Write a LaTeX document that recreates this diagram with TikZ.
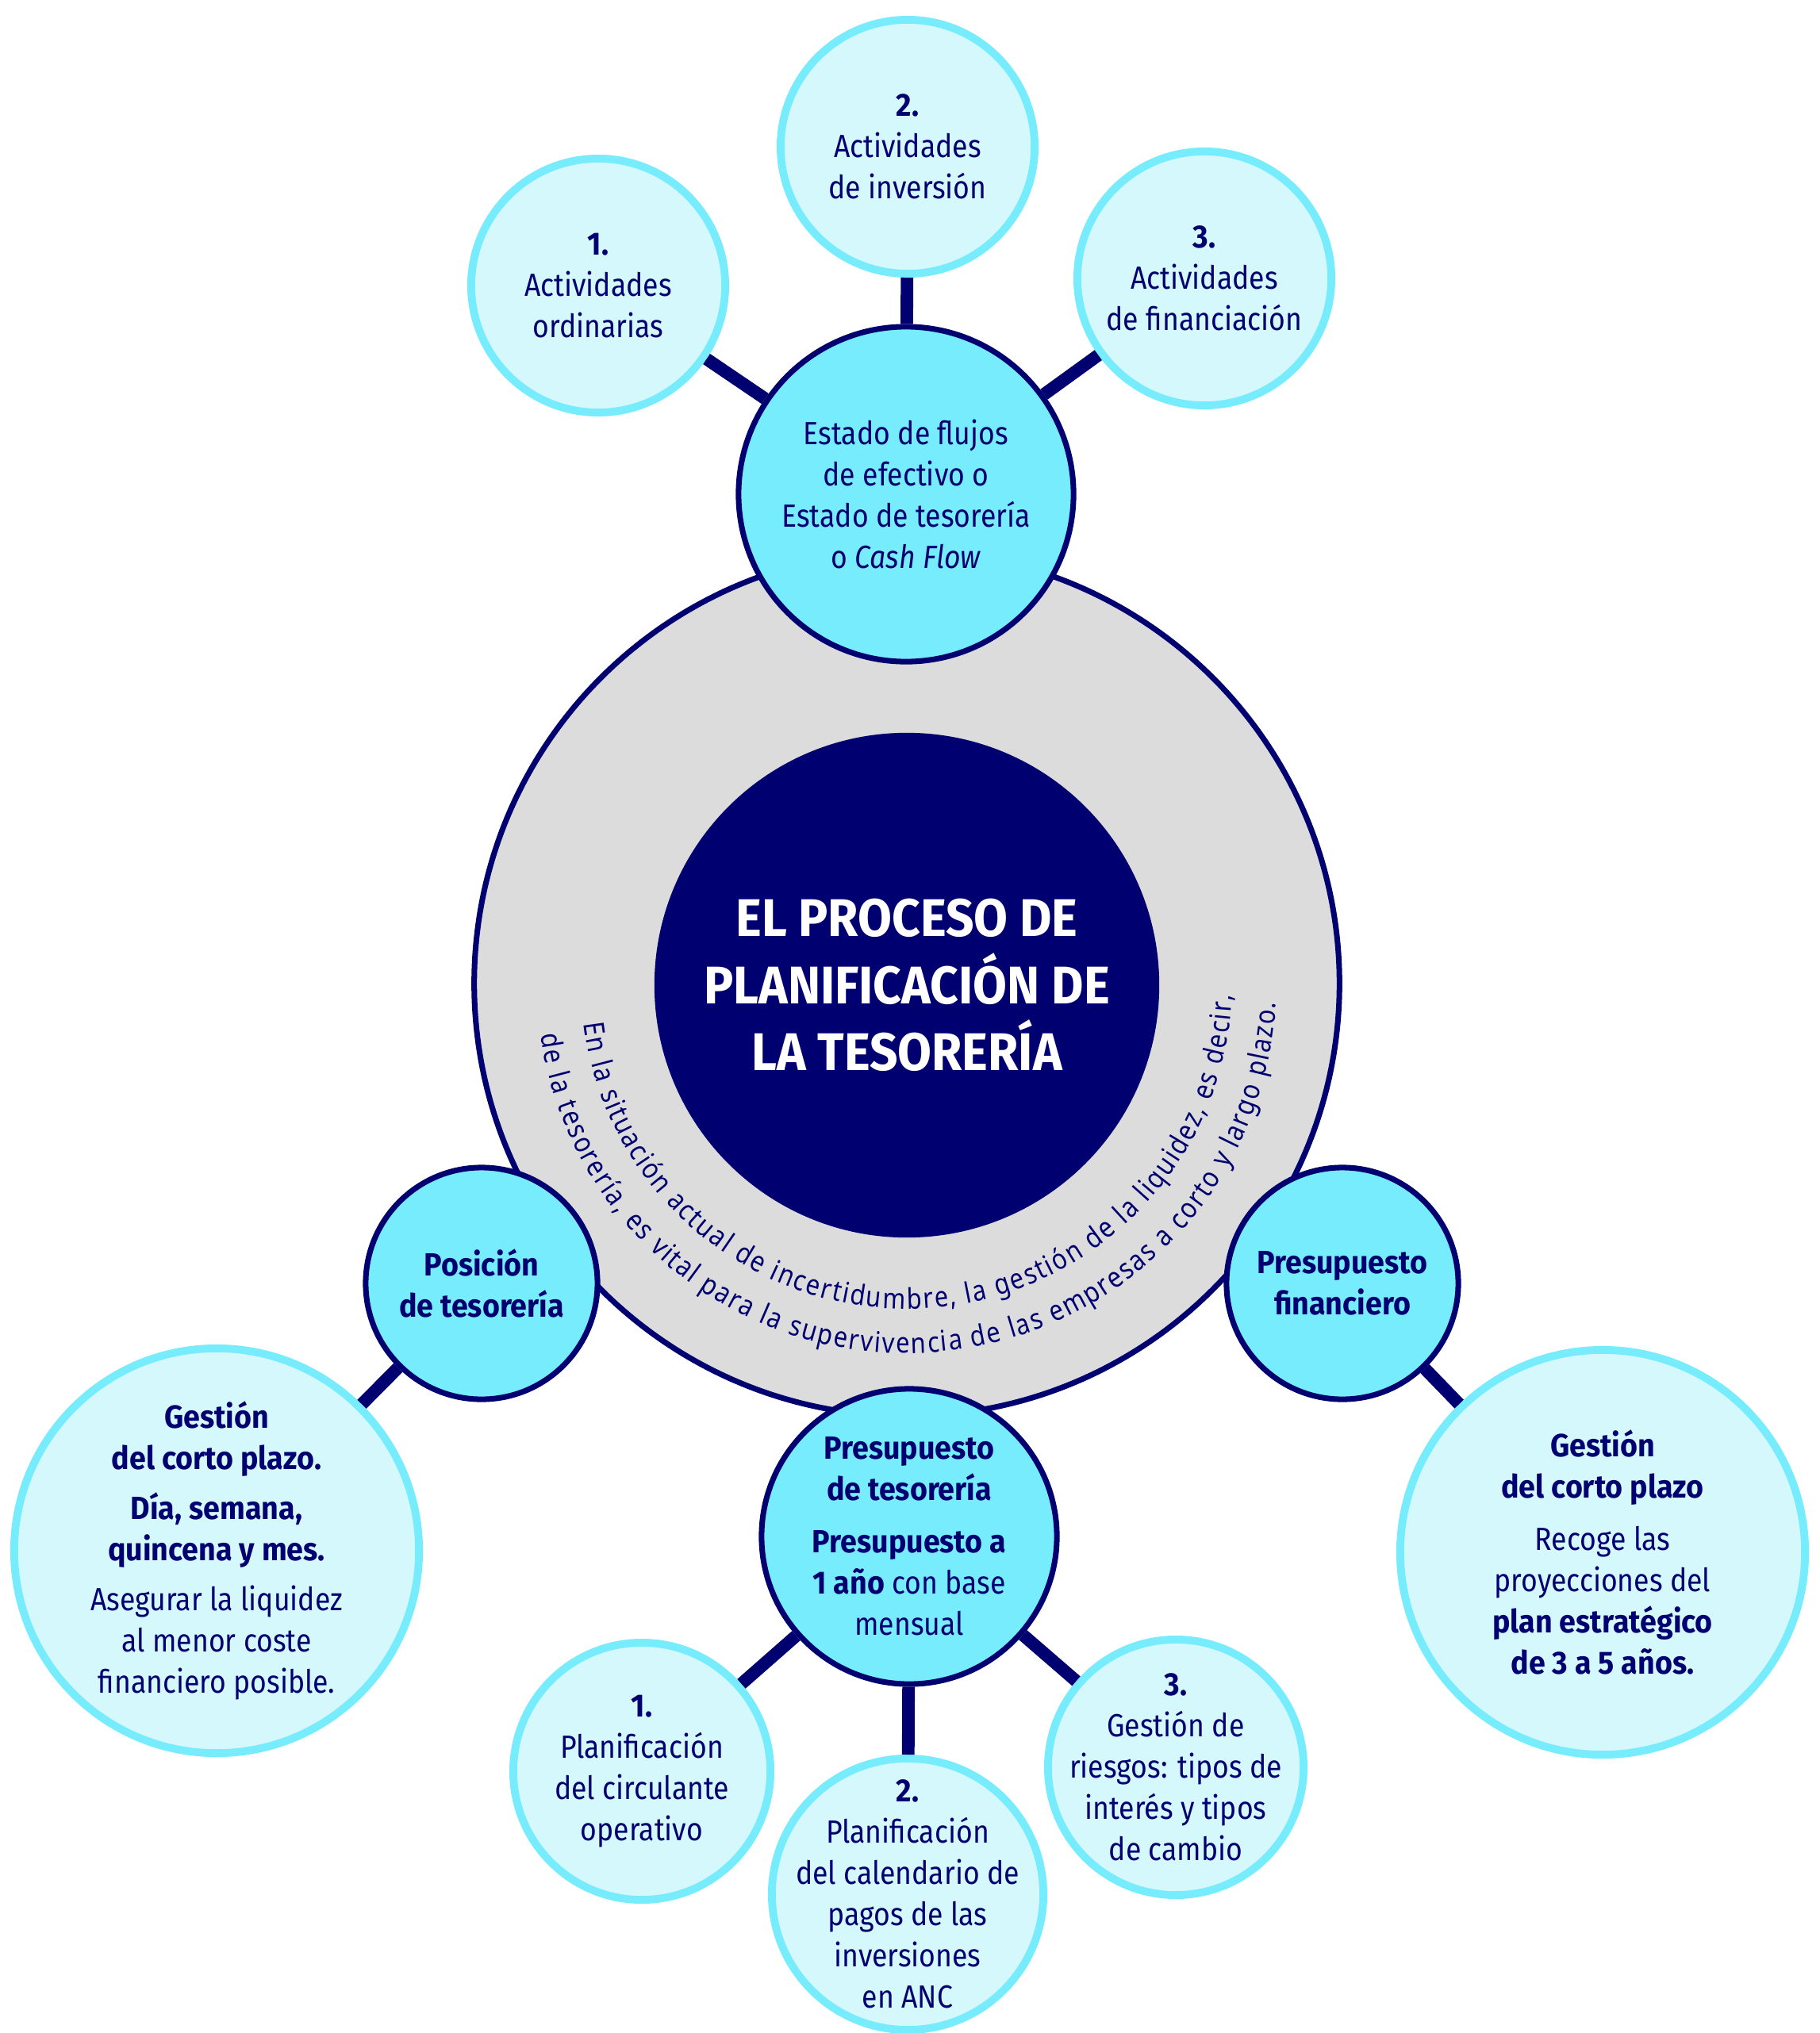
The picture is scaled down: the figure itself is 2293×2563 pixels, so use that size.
\documentclass[tikz,border=0pt]{standalone}
\usepackage{fontspec}
\setmainfont[FakeStretch=0.88,BoldFeatures={FakeStretch=0.93}]{Fira Sans}
\newfontfamily\arcfont[FakeStretch=0.86]{Noto Sans}
\usetikzlibrary{decorations.text}
\definecolor{navy}{RGB}{0,0,112}
\definecolor{midcyan}{RGB}{118,236,253}
\definecolor{palecyan}{RGB}{213,248,253}
\definecolor{ringgrey}{RGB}{220,220,220}

\begin{document}
\begin{tikzpicture}[x=0.01cm,y=0.01cm,
  hub/.style={circle,draw=navy,fill=midcyan,line width=2pt,text=navy,align=center,inner sep=-1cm,font=\fontsize{11.5}{14.8}\selectfont},
  leaf/.style={circle,draw=midcyan,fill=palecyan,line width=2.8pt,text=navy,align=center,inner sep=-1cm,font=\fontsize{11.5}{14.8}\selectfont},
  link/.style={draw=navy,line width=4.5pt}]

\useasboundingbox (0,0) rectangle (2293,-2563);

% anillo central
\node[circle,draw=navy,fill=ringgrey,line width=2pt,minimum size=10.9cm] (ring) at (1143,-1240) {};
\node[circle,fill=navy,minimum size=6.36cm,inner sep=-1cm,text=white,align=center,font=\fontsize{19}{24}\selectfont\bfseries] (core) at (1143,-1242) {EL PROCESO DE\\PLANIFICACIÓN DE\\LA TESORERÍA};

\path[decorate,decoration={text along path,text align={fit to path},
  text={|\arcfont\fontsize{10.2}{11}\selectfont\color{navy}|En la situación actual de incertidumbre, la gestión de la liquidez, es decir,}}]
  (ring.center) ++(187:410) arc[start angle=187,end angle=358,radius=410];
\path[decorate,decoration={text along path,text align={fit to path},
  text={|\arcfont\fontsize{10.2}{11}\selectfont\color{navy}|de la tesorería, es vital para la supervivencia de las empresas a corto y largo plazo.}}]
  (ring.center) ++(188:466) arc[start angle=188,end angle=357,radius=466];

% nodos
\node[hub,minimum size=4.22cm](flujo) at (1142,-623) {Estado de flujos\\de efectivo o\\Estado de tesorería\\o \textit{Cash Flow}};
\node[leaf,minimum size=3.2cm](act1) at (754,-360) {\textbf{1.}\\Actividades\\ordinarias};
\node[leaf,minimum size=3.2cm](act2) at (1144,-185) {\textbf{2.}\\Actividades\\de inversión};
\node[leaf,minimum size=3.2cm](act3) at (1518,-351) {\textbf{3.}\\Actividades\\de financiación};

\node[hub,minimum size=2.92cm,font=\fontsize{11.5}{14.8}\selectfont\bfseries](posic) at (607,-1618) {Posición\\de tesorería};
\node[hub,minimum size=2.92cm,font=\fontsize{11.5}{14.8}\selectfont\bfseries](presfin) at (1692,-1618) {Presupuesto\\financiero};
\node[hub,minimum size=3.72cm](prestes) at (1146,-1937) {\textbf{Presupuesto}\\\textbf{de tesorería}\\[4pt]\textbf{Presupuesto a}\\\textbf{1 año} con base\\mensual};

\node[leaf,minimum size=5.1cm](corto) at (273,-1955) {\textbf{Gestión}\\\textbf{del corto plazo.}\\[3pt]\textbf{Día, semana,}\\\textbf{quincena y mes.}\\[3pt]Asegurar la liquidez\\al menor coste\\financiero posible.};
\node[leaf,minimum size=5.1cm](largo) at (2020,-1957) {\textbf{Gestión}\\\textbf{del corto plazo}\\[4pt]Recoge las\\proyecciones del\\\textbf{plan estratégico}\\\textbf{de 3 a 5 años.}};

\node[leaf,minimum size=3.24cm](plan1) at (809,-2233) {\textbf{1.}\\Planificación\\del circulante\\operativo};
\node[leaf,minimum size=3.42cm](plan2) at (1144,-2388) {\textbf{2.}\\Planificación\\del calendario de\\pagos de las\\inversiones\\en ANC};
\node[leaf,minimum size=3.22cm](plan3) at (1482,-2228) {\textbf{3.}\\Gestión de\\riesgos: tipos de\\interés y tipos\\de cambio};

% conectores
\path[link] (flujo) edge (act1)
            (flujo) edge (act2)
            (flujo) edge (act3)
            (posic) edge (corto)
            (presfin) edge (largo)
            (prestes) edge (plan1)
            (prestes) edge (plan2)
            (prestes) edge (plan3);

\end{tikzpicture}
\end{document}
